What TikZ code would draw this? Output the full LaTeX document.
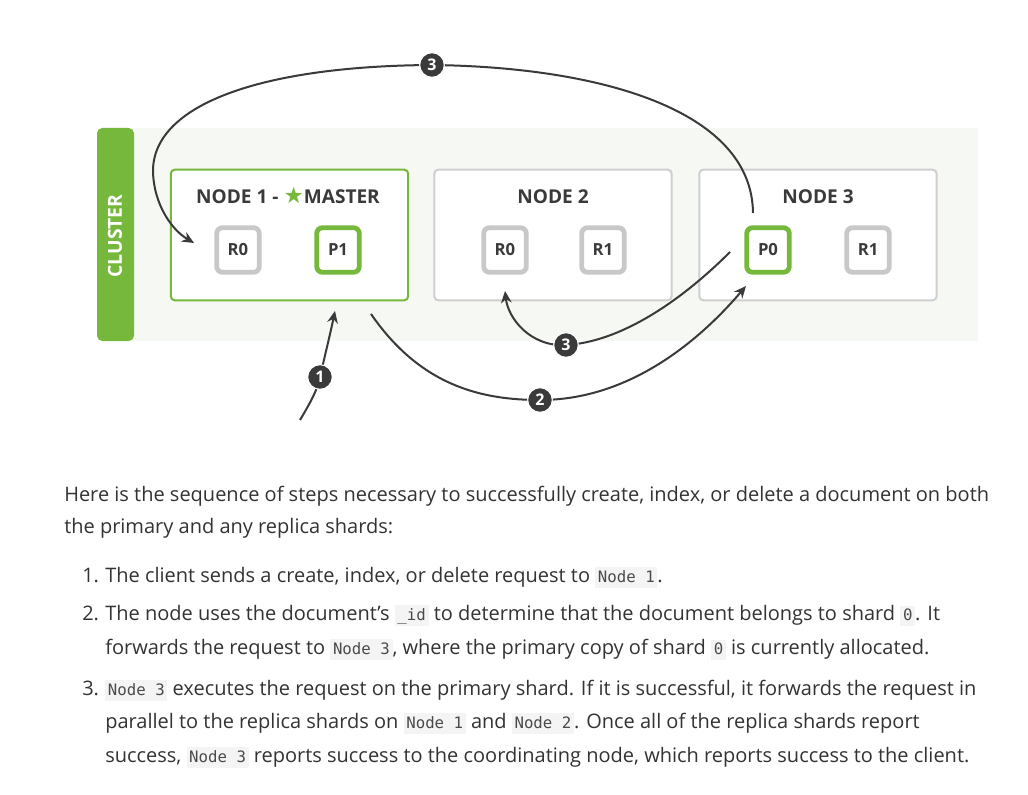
\documentclass[tikz,border=0pt]{standalone}
\usepackage{fontspec}
\setmainfont{Open Sans}
\newfontfamily\dfont{Open Sans}
\newfontfamily\symfont{DejaVu Sans}
\newfontfamily\codefont{DejaVu Sans Mono}
\usetikzlibrary{arrows.meta}
\definecolor{egreen}{HTML}{76B83C}
\definecolor{bggray}{HTML}{F6F8F4}
\definecolor{boxgray}{HTML}{CFCFCF}
\definecolor{shgray}{HTML}{C8C8C8}
\definecolor{ink}{HTML}{3A3A3A}
\definecolor{txt}{HTML}{333333}
\definecolor{codebg}{HTML}{F4F4F4}
\definecolor{codefg}{HTML}{4A4A4A}
\newcommand\cod[1]{{\setlength\fboxsep{2pt}\colorbox{codebg}{\fontsize{11.8pt}{13pt}\codefont\color{codefg}\vphantom{Ng}#1}}}
\tikzset{
  nodebox/.style={draw=boxgray, line width=1.5pt, rounded corners=3pt, fill=white, minimum width=178pt, minimum height=98pt, inner sep=0pt},
  shard/.style={draw=shgray, line width=3.6pt, rounded corners=4.5pt, fill=white, minimum width=32pt, minimum height=33.5pt, inner sep=0pt, font=\dfont\bfseries\fontsize{12.5pt}{13pt}\selectfont, text=ink},
  title/.style={font=\dfont\bfseries\fontsize{14.3pt}{15pt}\selectfont, text=ink, inner sep=0pt, anchor=base},
  stepc/.style={circle, fill=ink, draw=white, line width=0.8pt, minimum size=18.5pt, inner sep=0pt, text=white, font=\dfont\bfseries\fontsize{12pt}{12pt}\selectfont},
  arr/.style={draw=ink, line width=1.5pt, -{Stealth[length=9pt, width=8pt]}},
  para/.style={anchor=base west, inner sep=0pt, text=txt, font=\fontsize{15pt}{17pt}\selectfont},
}
\begin{document}
\begin{tikzpicture}[x=0.75pt, y=-0.75pt]
\useasboundingbox (0,0) rectangle (1028,795);
\fill[white] (0,0) rectangle (1028,795);
% cluster
\fill[bggray] (130,128) rectangle (978,341);
\fill[egreen, rounded corners=4pt] (134,128) -- (97,128) -- (97,341) -- (134,341) -- cycle;
\node[rotate=90, text=white, font=\dfont\bfseries\fontsize{14.5pt}{15pt}\selectfont] (cl) at (115,236) {CLUSTER};
% nodes
\node[nodebox, draw=egreen] (n1) at (289.5,235) {};
\node[nodebox] (n2) at (553,235) {};
\node[nodebox] (n3) at (818,235) {};
\node[title] (t1) at (288,204) {NODE 1 - {\symfont\fontsize{17pt}{17pt}\selectfont\color{egreen}★}MASTER};
\node[title] (t2) at (553,204) {NODE 2};
\node[title] (t3) at (818,204) {NODE 3};
\node[shard] (s1r0) at (238,250) {R0};
\node[shard, draw=egreen] (s1p1) at (338,250) {P1};
\node[shard] (s2r0) at (505,250) {R0};
\node[shard] (s2r1) at (603,250) {R1};
\node[shard, draw=egreen] (s3p0) at (768,250) {P0};
\node[shard] (s3r1) at (868,250) {R1};
% connector end points
\coordinate (a1s) at (300,420);
\coordinate (a1e) at (335,311);
\coordinate (a2s) at (371,314);
\coordinate (a2e) at (746,286);
\coordinate (a3s) at (753,213);
\coordinate (a3e) at (194,243);
\coordinate (b3s) at (730,252);
\coordinate (b3e) at (505,291);
% arrows
\draw[arr] (a1s) .. controls (312,400) and (318,388) .. (320,377) .. controls (325,355) and (330,335) .. (a1e);
\draw[arr] (a2s) .. controls (420,385) and (480,400) .. (540,400) .. controls (630,400) and (700,340) .. (a2e);
\draw[arr] (a3s) .. controls (752,110) and (600,67) .. (432,65) .. controls (260,66) and (152,105) .. (153,172) .. controls (154,205) and (172,230) .. (a3e);
\draw[arr] (b3s) .. controls (680,302) and (620,342) .. (566,345) .. controls (530,347) and (508,318) .. (b3e);
\node[stepc] (c1) at (320,377) {1};
\node[stepc] (c2) at (540,400) {2};
\node[stepc] (c3a) at (432,65) {3};
\node[stepc] (c3b) at (566,345) {3};
% text
\node[para] (p1) at (64,501) {Here is the sequence of steps necessary to successfully create, index, or delete a document on both};
\node[para] (p2) at (64,533) {the primary and any replica shards:};
\node[para] (l1n) at (82,582) {1.};
\node[para] (l1) at (105,582) {The client sends a create, index, or delete request to \cod{Node 1}.};
\node[para] (l2n) at (82,620) {2.};
\node[para] (l2) at (105,620) {The node uses the document’s \cod{\_id} to determine that the document belongs to shard \cod{0}. It};
\node[para] (l2b) at (105,654) {forwards the request to \cod{Node 3}, where the primary copy of shard \cod{0} is currently allocated.};
\node[para] (l3n) at (82,695) {3.};
\node[para] (l3) at (105,695) {\cod{Node 3} executes the request on the primary shard. If it is successful, it forwards the request in};
\node[para] (l3b) at (105,728) {parallel to the replica shards on \cod{Node 1} and \cod{Node 2}. Once all of the replica shards report};
\node[para] (l3c) at (105,762) {success, \cod{Node 3} reports success to the coordinating node, which reports success to the client.};
\end{tikzpicture}
\end{document}
